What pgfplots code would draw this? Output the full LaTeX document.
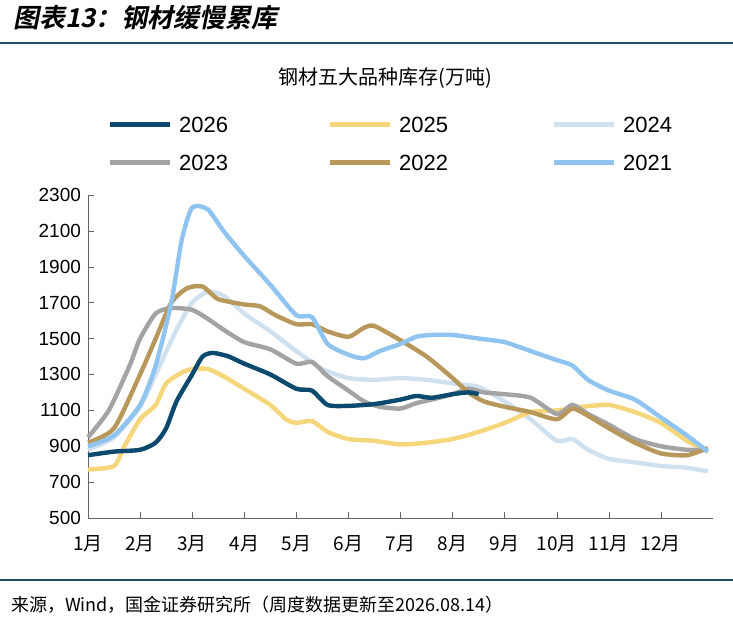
\documentclass[border=0pt]{standalone}
\usepackage{fontspec}
\setmainfont{Liberation Sans}
\newfontfamily\cjk{Noto Sans CJK SC}
\newfontfamily\cjkb[FakeSlant=0.2]{Noto Sans CJK SC Bold}
\usepackage{pgfplots}
\pgfplotsset{compat=1.18}
\definecolor{c26}{HTML}{0B4A6E}
\definecolor{c25}{HTML}{F5D67A}
\definecolor{c24}{HTML}{CFE0EE}
\definecolor{c23}{HTML}{A3A3A3}
\definecolor{c22}{HTML}{B8975A}
\definecolor{c21}{HTML}{8FC3F0}
\definecolor{rule}{HTML}{1F4E6E}
\begin{document}
\begin{tikzpicture}
\useasboundingbox (0,0) rectangle (366.5pt,311pt);
\node[anchor=west,font=\cjkb\fontsize{13}{15}\selectfont] at (3pt,302pt) {图表13：钢材缓慢累库};
\draw[rule,line width=1pt] (0,289.5pt) -- (366.5pt,289.5pt);
\draw[rule,line width=0.8pt] (0,21pt) -- (366.5pt,21pt);
\node[anchor=west,font=\cjk\fontsize{9}{11}\selectfont] at (2pt,8.5pt) {来源，Wind，国金证券研究所（周度数据更新至2026.08.14）};
\node[font=\cjk\fontsize{10}{12}\selectfont] at (192.5pt,272pt) {钢材五大品种库存(万吨)};
\foreach \c/\l/\x/\y in {c26/2026/55/248.5,c25/2025/165/248.5,c24/2024/277/248.5,c23/2023/55/229.5,c22/2022/165/229.5,c21/2021/277/229.5}{
  \draw[\c,line width=2.5pt] (\x pt,\y pt) -- ++(30pt,0);
  \node[anchor=west,font=\fontsize{11}{13}\selectfont] at (\x pt+31pt,\y pt) {\l};
}
\begin{axis}[at={(44pt,52pt)},anchor=south west,scale only axis,
 width=312.5pt,height=161.5pt,xmin=1,xmax=13,ymin=500,ymax=2300,
 ytick={500,700,...,2300},xtick={1,...,12},
 xticklabels={1月,2月,3月,4月,5月,6月,7月,8月,9月,10月,11月,12月},
 xticklabel style={font=\cjk\fontsize{9.5}{11}\selectfont,yshift=-5pt},
 yticklabel style={font=\fontsize{9.5}{11}\selectfont},
 /pgf/number format/assume math mode=true,
 /pgf/number format/1000 sep={},
 axis y line*=left, axis x line*=bottom,
 axis line style={black!60}, tick style={black!60},
 tick align=inside, major tick length=3pt,
 every axis plot/.style={line width=2.2pt,smooth,tension=0.4,no marks},
 clip=false]
\addplot[c24] coordinates {(1,880)(1.5,950)(2,1120)(2.3,1300)(2.7,1550)(3,1700)(3.3,1760)(3.6,1740)(4,1640)(4.5,1540)(5,1430)(5.5,1330)(6,1280)(6.5,1270)(7,1280)(7.5,1270)(8,1250)(8.5,1230)(9,1150)(9.5,1050)(10,930)(10.3,940)(10.6,880)(11,830)(11.5,810)(12,790)(12.5,780)(12.9,760)};
\addplot[c25] coordinates {(1,770)(1.5,790)(1.7,900)(2,1050)(2.3,1130)(2.5,1250)(2.8,1310)(3,1330)(3.3,1330)(3.6,1290)(4,1220)(4.5,1130)(4.8,1050)(5,1030)(5.3,1040)(5.6,980)(6,940)(6.5,930)(7,910)(7.5,920)(8,940)(8.5,980)(9,1030)(9.5,1090)(10,1100)(10.5,1120)(11,1130)(11.5,1090)(12,1030)(12.5,930)(12.9,870)};
\addplot[c23] coordinates {(1,950)(1.4,1100)(1.8,1350)(2,1500)(2.3,1640)(2.6,1670)(3,1660)(3.3,1610)(3.6,1550)(4,1480)(4.5,1440)(5,1360)(5.3,1370)(5.6,1290)(6,1210)(6.3,1150)(6.6,1120)(7,1110)(7.3,1140)(7.6,1160)(8,1190)(8.3,1220)(8.6,1200)(9,1190)(9.5,1170)(10,1080)(10.3,1130)(10.6,1080)(11,1020)(11.5,940)(12,900)(12.5,880)(12.9,880)};
\addplot[c22] coordinates {(1,920)(1.5,1000)(2,1300)(2.3,1500)(2.6,1700)(2.9,1780)(3.2,1790)(3.5,1720)(4,1690)(4.3,1680)(4.6,1630)(5,1580)(5.3,1580)(5.6,1540)(6,1510)(6.3,1560)(6.5,1570)(7,1490)(7.5,1400)(8,1280)(8.3,1200)(8.6,1150)(9,1120)(9.5,1090)(10,1050)(10.3,1110)(10.6,1070)(11,1000)(11.5,920)(12,860)(12.5,850)(12.9,890)};
\addplot[c21] coordinates {(1,900)(1.5,960)(2,1130)(2.3,1350)(2.6,1700)(2.8,2050)(3,2230)(3.3,2220)(3.6,2100)(4,1960)(4.5,1800)(5,1630)(5.3,1620)(5.6,1470)(6,1410)(6.3,1390)(6.6,1430)(7,1470)(7.3,1510)(7.6,1520)(8,1520)(8.5,1500)(9,1480)(9.5,1430)(10,1380)(10.3,1350)(10.6,1270)(11,1210)(11.5,1160)(12,1060)(12.5,960)(12.9,870)};
\addplot[c26] coordinates {(1,850)(1.5,870)(2,880)(2.3,920)(2.5,1000)(2.7,1150)(3,1300)(3.2,1400)(3.4,1420)(3.7,1400)(4,1360)(4.5,1300)(5,1220)(5.3,1210)(5.6,1130)(6,1125)(6.5,1135)(7,1160)(7.3,1180)(7.6,1170)(8,1190)(8.3,1200)(8.5,1190)};
\end{axis}
\end{tikzpicture}
\end{document}
